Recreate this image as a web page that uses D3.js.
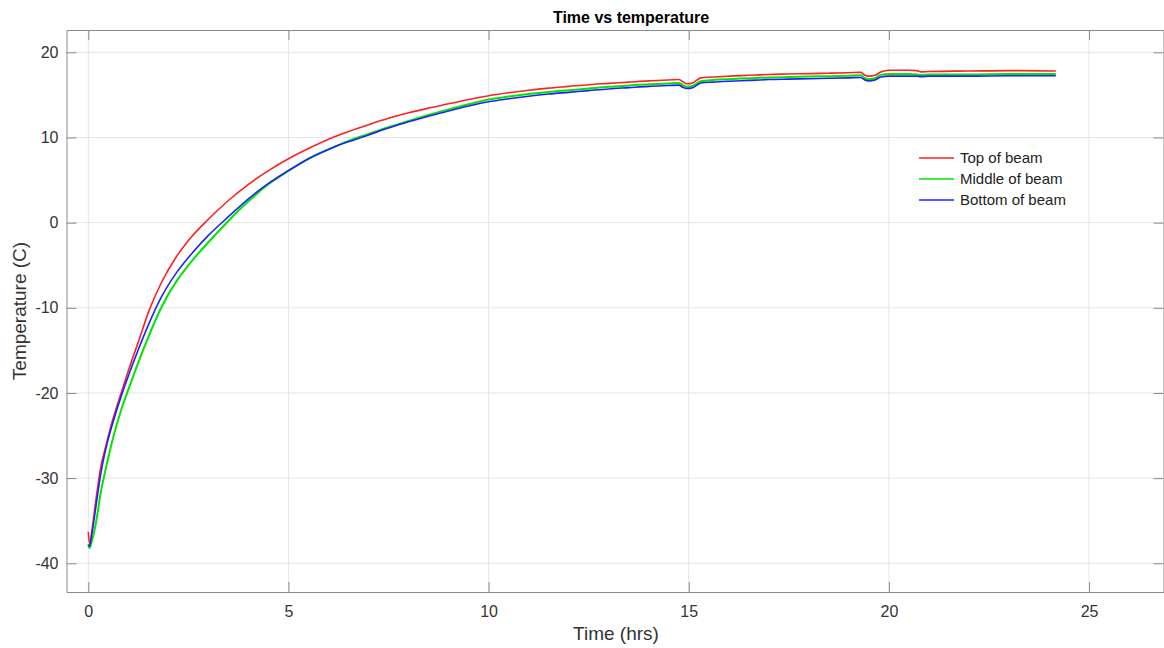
<!DOCTYPE html>
<html>
<head>
<meta charset="utf-8">
<script src="https://cdn.jsdelivr.net/npm/d3@7"></script>
<style>
  html, body { margin: 0; padding: 0; background: #fff; }
  svg { display: block; font-family: "Liberation Sans", Arial, sans-serif; }
</style>
</head>
<body>
<svg id="chart" width="1164" height="648"></svg>
<script>
// Logged beam temperatures (deg C) against elapsed time (hours)
const timeHrs = [0, 0.03, 0.1, 0.2, 0.3, 0.45, 0.6, 0.82, 1.0, 1.25, 1.52, 1.83, 2.2, 2.5, 3.0, 3.5, 4.0, 4.5, 5.0, 5.5, 6.1, 6.5, 7.0, 7.5, 8.0, 8.5, 9.0, 9.5, 10.0, 10.5, 11.0, 11.5, 12.0, 12.5, 13.0, 13.5, 14.0, 14.5, 14.75, 14.85, 14.95, 15.1, 15.3, 15.6, 16.0, 16.5, 17.0, 17.5, 18.0, 18.5, 19.0, 19.3, 19.4, 19.5, 19.65, 19.8, 20.0, 20.5, 20.7, 20.8, 21.0, 22.0, 23.0, 24.17];

const topOfBeam = [-36.3, -37.7, -35.8, -32.2, -29.0, -26.0, -23.3, -20.0, -17.4, -14.0, -10.3, -7.0, -4.0, -2.1, 0.4, 2.6, 4.5, 6.1, 7.5, 8.7, 10.0, 10.7, 11.5, 12.25, 12.9, 13.45, 13.95, 14.45, 14.9, 15.25, 15.55, 15.8, 16.0, 16.2, 16.35, 16.5, 16.65, 16.75, 16.8, 16.55, 16.3, 16.4, 17.0, 17.1, 17.2, 17.3, 17.4, 17.45, 17.5, 17.55, 17.6, 17.65, 17.3, 17.2, 17.3, 17.7, 17.9, 17.9, 17.85, 17.7, 17.75, 17.8, 17.85, 17.8];

const middleOfBeam = [-37.8, -38.2, -37.2, -35.0, -32.0, -28.6, -25.6, -22.0, -19.6, -16.4, -13.2, -9.9, -6.9, -5.0, -2.3, 0.2, 2.5, 4.5, 6.1, 7.5, 8.8, 9.6, 10.4, 11.2, 11.95, 12.65, 13.3, 13.9, 14.45, 14.8, 15.1, 15.35, 15.55, 15.75, 15.95, 16.1, 16.25, 16.35, 16.4, 16.15, 15.95, 16.05, 16.6, 16.75, 16.85, 16.95, 17.05, 17.1, 17.15, 17.2, 17.25, 17.3, 16.95, 16.85, 16.95, 17.35, 17.45, 17.45, 17.4, 17.35, 17.4, 17.4, 17.45, 17.45];

const bottomOfBeam = [-37.8, -38.0, -36.2, -33.0, -29.8, -26.3, -23.7, -20.4, -18.0, -14.9, -11.8, -8.7, -5.9, -4.1, -1.5, 0.7, 2.8, 4.6, 6.1, 7.5, 8.8, 9.5, 10.3, 11.1, 11.85, 12.5, 13.1, 13.7, 14.2, 14.55, 14.85, 15.1, 15.3, 15.5, 15.7, 15.85, 16.0, 16.1, 16.15, 15.9, 15.75, 15.85, 16.4, 16.5, 16.6, 16.7, 16.8, 16.85, 16.9, 16.95, 17.0, 17.05, 16.75, 16.65, 16.75, 17.1, 17.2, 17.2, 17.2, 17.15, 17.2, 17.2, 17.25, 17.25];

const seriesNames = ["Top of beam", "Middle of beam", "Bottom of beam"];
const seriesColors = ["#ff2020", "#00e600", "#2020ff"];
const xTickValues = [0, 5, 10, 15, 20, 25];
const yTickValues = [-40, -30, -20, -10, 0, 10, 20];

const svg = d3.select("#chart");
const plot = { left: 66.5, right: 1163.5, top: 30, bottom: 592 };

const x = d3.scaleLinear().domain([-0.545, 26.86]).range([plot.left, plot.right]);
const y = d3.scaleLinear().domain([-43.37, 22.62]).range([plot.bottom, plot.top]);

const axisColor = "#8a8a8a";
const textColor = "#333";
const gridColor = "#e5e5e5";
const tickLen = 10;
const plainNumber = d => String(d);

// grid
const grid = svg.append("g");
grid.selectAll("line.gx").data(xTickValues).join("line")
  .attr("x1", d => x(d)).attr("x2", d => x(d))
  .attr("y1", plot.top).attr("y2", plot.bottom)
  .attr("stroke", gridColor).attr("stroke-width", 1);
grid.selectAll("line.gy").data(yTickValues).join("line")
  .attr("y1", d => y(d)).attr("y2", d => y(d))
  .attr("x1", plot.left).attr("x2", plot.right)
  .attr("stroke", gridColor).attr("stroke-width", 1);

// data lines
const seriesValues = [topOfBeam, middleOfBeam, bottomOfBeam];
const line = d3.line().x(d => x(d[0])).y(d => y(d[1])).curve(d3.curveMonotoneX);
[0, 1, 2].forEach(i => {
  const pts = timeHrs.map((t, k) => [t, seriesValues[i][k]]);
  svg.append("path")
    .datum(pts)
    .attr("d", line)
    .attr("fill", "none")
    .attr("stroke", seriesColors[i])
    .attr("stroke-width", i === 1 ? 2 : 1.6)
    .attr("stroke-linejoin", "round");
});

// axes (box with inward ticks on all sides)
const fontSize = 16;
const bottomAxis = d3.axisBottom(x).tickValues(xTickValues).tickSizeInner(-tickLen).tickSizeOuter(0).tickPadding(14).tickFormat(plainNumber);
const topAxis = d3.axisTop(x).tickValues(xTickValues).tickSizeInner(-tickLen).tickSizeOuter(0).tickFormat("");
const leftAxis = d3.axisLeft(y).tickValues(yTickValues).tickSizeInner(-tickLen).tickSizeOuter(0).tickPadding(8).tickFormat(plainNumber);
const rightAxis = d3.axisRight(y).tickValues(yTickValues).tickSizeInner(-tickLen).tickSizeOuter(0).tickFormat("");

function styleAxis(g) {
  g.select(".domain").attr("stroke", axisColor).attr("stroke-width", 1);
  g.selectAll(".tick line").attr("stroke", axisColor).attr("stroke-width", 1);
  g.selectAll(".tick text").attr("fill", textColor).attr("font-size", fontSize)
    .attr("font-family", "Liberation Sans, Arial, sans-serif");
}
svg.append("g").attr("transform", `translate(0,${plot.bottom})`).call(bottomAxis).call(styleAxis);
svg.append("g").attr("transform", `translate(0,${plot.top})`).call(topAxis).call(styleAxis);
svg.append("g").attr("transform", `translate(${plot.left},0)`).call(leftAxis).call(styleAxis);
svg.append("g").attr("transform", `translate(${plot.right},0)`).call(rightAxis).call(styleAxis);

// title and axis labels
svg.append("text").attr("x", 631).attr("y", 23).attr("text-anchor", "middle")
  .attr("font-size", 16).attr("font-weight", "bold").attr("fill", "#000")
  .text("Time vs temperature");
svg.append("text").attr("x", 616).attr("y", 640).attr("text-anchor", "middle")
  .attr("font-size", 19).attr("fill", textColor).text("Time (hrs)");
svg.append("text").attr("transform", `translate(26,${(plot.top + plot.bottom) / 2}) rotate(-90)`)
  .attr("text-anchor", "middle").attr("font-size", 19).attr("fill", textColor)
  .text("Temperature (C)");

// legend
const legend = svg.append("g").attr("transform", "translate(919,158)");
seriesNames.forEach((name, i) => {
  const row = legend.append("g").attr("transform", `translate(0,${i * 21})`);
  row.append("line").attr("x1", 0).attr("x2", 35).attr("y1", 0).attr("y2", 0)
    .attr("stroke", seriesColors[i]).attr("stroke-width", 1.6);
  row.append("text").attr("x", 41).attr("y", 0).attr("dy", "0.35em")
    .attr("font-size", 15).attr("fill", "#222").text(name);
});
</script>
</body>
</html>
